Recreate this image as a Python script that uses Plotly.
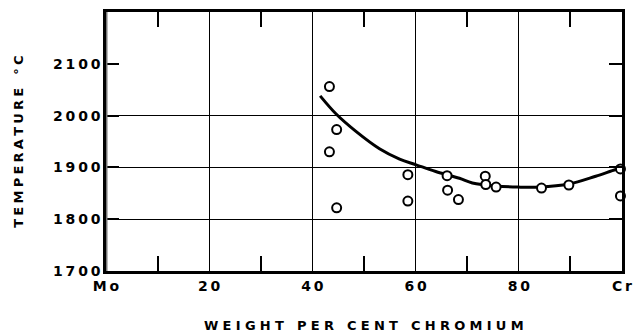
import plotly.graph_objects as go

# Data points (weight % Cr, temperature °C)
pts_x = [43.3, 44.7, 43.3, 44.7, 58.5, 58.5, 66.1, 66.2, 68.3, 73.5, 73.6, 75.6, 84.4, 89.7, 99.7, 99.7]
pts_y = [2056, 1973, 1930, 1822, 1886, 1835, 1884, 1856, 1838, 1883, 1867, 1862, 1860, 1866, 1897, 1845]

# Smooth fitted curve
curve_x = [41.5, 44.6, 48.5, 53.0, 56.9, 60.1, 63.9, 68.5, 71.0, 75.6, 79.9, 84.0, 89.7, 94.9, 98.8, 100]
curve_y = [2038, 2003, 1969, 1936, 1916, 1905, 1892, 1879, 1870, 1864, 1862, 1862, 1868, 1883, 1896, 1899]

x_tickvals = [0, 20, 40, 60, 80, 100]
x_ticktext = ["Mo", "20", "40", "60", "80", "Cr"]
x_minor = [10, 30, 50, 70, 90]
y_tickvals = [1700, 1800, 1900, 2000, 2100]
y_ticktext = ["1700", "1800", "1900", "2000", "2100"]
y_grid = [1800, 1900, 2000]

FONT = "DejaVu Sans"
sp = "\u2009"


def spaced(s, gap=sp):
    return gap.join(s)


fig = go.Figure()
fig.add_trace(go.Scatter(x=curve_x, y=curve_y, mode="lines",
                         line=dict(color="black", width=3, shape="spline"),
                         hoverinfo="skip", showlegend=False))
fig.add_trace(go.Scatter(x=pts_x, y=pts_y, mode="markers",
                         marker=dict(symbol="circle", size=9, color="white",
                                     line=dict(color="black", width=2)),
                         showlegend=False, cliponaxis=False))

tickfont = dict(family=FONT, size=14, weight="bold", color="black")

fig.update_layout(
    width=641, height=336,
    margin=dict(l=106, r=18, t=9, b=65),
    paper_bgcolor="white", plot_bgcolor="white",
    font=dict(family=FONT, size=14, color="black"),
    xaxis=dict(range=[0, 100], tickvals=x_tickvals,
               ticktext=[spaced(t) for t in x_ticktext],
               showgrid=True, gridcolor="black", gridwidth=1,
               ticks="", showline=True, linecolor="black", linewidth=2.5,
               mirror="allticks", zeroline=False, tickfont=tickfont,
               minor=dict(tickvals=x_minor, ticks="inside", ticklen=15,
                          tickcolor="black", tickwidth=1.5, showgrid=False)),
    yaxis=dict(range=[1700, 2200], tickvals=y_tickvals,
               ticktext=[spaced(t) for t in y_ticktext],
               showgrid=False, ticks="inside", ticklen=13, tickcolor="black",
               tickwidth=1.5, showline=True, linecolor="black", linewidth=2.5,
               mirror="allticks", zeroline=False, tickfont=tickfont,
               minor=dict(tickvals=y_grid, showgrid=True, gridcolor="black",
                          gridwidth=1, ticks="")),
)

# gray left spine as in the reference
fig.add_shape(type="line", xref="x", yref="paper", x0=0, x1=0, y0=0, y1=1,
              line=dict(color="#777777", width=3))

xtitle = "\u2003".join(spaced(w, "\u2004") for w in "WEIGHT PER CENT CHROMIUM".split())
ytitle = "\u2003".join(spaced(w, "\u2005") for w in "TEMPERATURE °C".split())
fig.add_annotation(text=xtitle, xref="paper", yref="paper", x=0.5, y=-0.21,
                   xanchor="center", yanchor="middle", showarrow=False,
                   font=dict(family=FONT, size=13, weight="bold"))
fig.add_annotation(text=ytitle, xref="paper", yref="paper", x=-0.17, y=0.5,
                   xanchor="center", yanchor="middle", showarrow=False,
                   textangle=-90, font=dict(family=FONT, size=13, weight="bold"))

fig.write_html("out.html")
